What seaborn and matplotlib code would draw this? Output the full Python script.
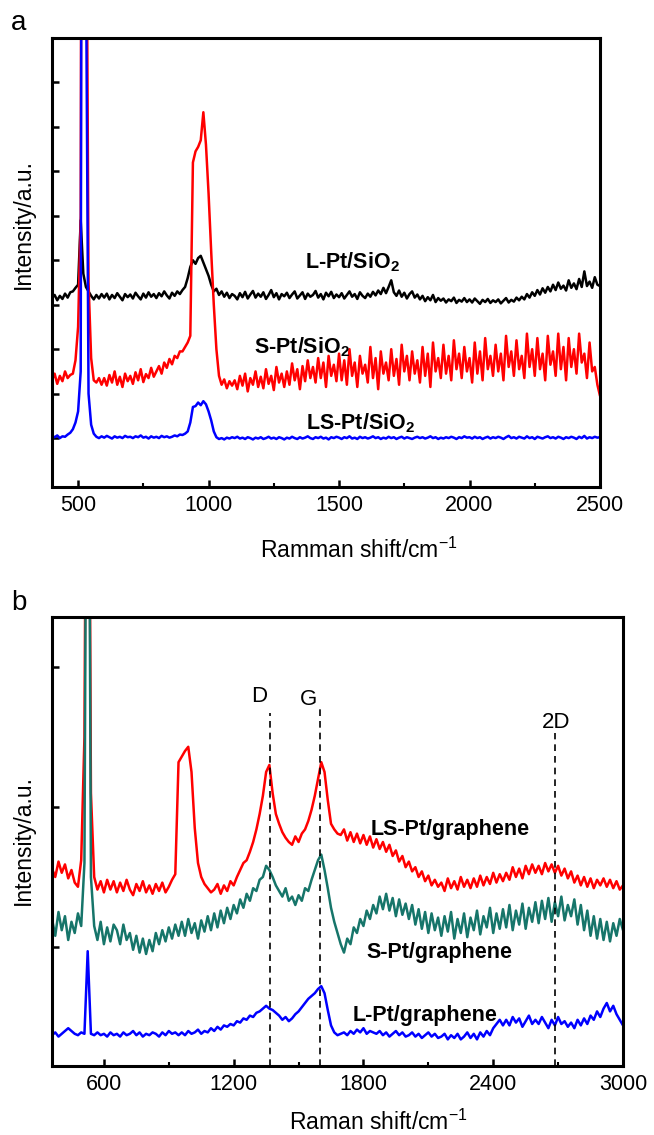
import numpy as np
import pandas as pd
import matplotlib.pyplot as plt
import seaborn as sns

# Raman shift axes (cm-1), evenly sampled spectra
shift_a = np.arange(400, 2501, 10)
shift_b = np.arange(360, 3001, 15)

# ---- panel a, stacked intensities (a.u.), one row = 100 cm-1 ----
l_pt_sio2 = [
    4.15, 4.22, 4.10, 4.20, 4.13, 4.25, 4.16, 4.28, 4.30, 4.38,
    4.45, 5.90, 4.70, 4.40, 4.30, 4.20, 4.12, 4.22, 4.14, 4.24,
    4.16, 4.25, 4.12, 4.22, 4.15, 4.26, 4.18, 4.10, 4.24, 4.17,
    4.23, 4.14, 4.27, 4.19, 4.12, 4.25, 4.16, 4.28, 4.18, 4.24,
    4.15, 4.26, 4.19, 4.30, 4.21, 4.14, 4.27, 4.20, 4.30, 4.24,
    4.33, 4.40, 4.60, 4.85, 5.00, 4.92, 5.05, 5.10, 4.95, 4.80,
    4.65, 4.45, 4.30, 4.36, 4.22, 4.30, 4.18, 4.27, 4.15, 4.24,
    4.20, 4.12, 4.26, 4.17, 4.29, 4.14, 4.23, 4.31, 4.16, 4.25,
    4.18, 4.28, 4.13, 4.22, 4.33, 4.17, 4.26, 4.12, 4.24, 4.19,
    4.27, 4.15, 4.23, 4.30, 4.14, 4.21, 4.28, 4.13, 4.25, 4.18,
    4.22, 4.31, 4.16, 4.24, 4.12, 4.27, 4.19, 4.29, 4.15, 4.23,
    4.17, 4.26, 4.14, 4.22, 4.30, 4.18, 4.24, 4.13, 4.28, 4.20,
    4.15, 4.25, 4.18, 4.29, 4.21, 4.32, 4.24, 4.38, 4.26, 4.40,
    4.55, 4.28, 4.20, 4.32, 4.18, 4.27, 4.14, 4.24, 4.30, 4.16,
    4.23, 4.12, 4.20, 4.08, 4.17, 4.10, 4.22, 4.06, 4.15, 4.09,
    4.14, 4.05, 4.12, 4.08, 4.16, 4.04, 4.11, 4.07, 4.15, 4.06,
    4.12, 4.05, 4.14, 4.08, 4.02, 4.11, 4.06, 4.13, 4.04, 4.10,
    4.06, 4.12, 4.03, 4.09, 4.15, 4.05, 4.11, 4.07, 4.16, 4.10,
    4.18, 4.12, 4.24, 4.16, 4.28, 4.20, 4.33, 4.23, 4.37, 4.27,
    4.40, 4.30, 4.45, 4.33, 4.50, 4.36, 4.43, 4.32, 4.55, 4.38,
    4.48, 4.35, 4.58, 4.40, 4.75, 4.42, 4.52, 4.38, 4.62, 4.45,
    4.42]

s_pt_sio2 = [
    2.30, 2.45, 2.22, 2.40, 2.28, 2.50, 2.35, 2.42, 2.45, 2.75,
    3.50, 6.00, 40.0, 16.0, 4.50, 2.80, 2.30, 2.25, 2.35, 2.20,
    2.35, 2.18, 2.42, 2.25, 2.50, 2.20, 2.38, 2.15, 2.45, 2.28,
    2.40, 2.22, 2.48, 2.30, 2.55, 2.26, 2.44, 2.35, 2.58, 2.38,
    2.50, 2.62, 2.45, 2.70, 2.58, 2.78, 2.66, 2.85, 2.80, 2.95,
    2.95, 3.05, 3.15, 3.30, 7.20, 7.45, 7.55, 7.70, 8.33, 7.60,
    6.50, 5.20, 4.00, 3.00, 2.40, 2.20, 2.32, 2.12, 2.28, 2.18,
    2.30, 2.10, 2.40, 2.18, 2.45, 2.05, 2.35, 2.20, 2.50, 2.15,
    2.38, 2.12, 2.55, 2.22, 2.40, 2.08, 2.60, 2.25, 2.45, 2.15,
    2.50, 2.20, 2.68, 2.30, 2.55, 2.10, 2.62, 2.28, 2.75, 2.35,
    2.60, 2.25, 2.80, 2.35, 2.70, 2.15, 2.85, 2.40, 2.65, 2.28,
    2.90, 2.30, 2.75, 2.20, 3.00, 2.40, 2.70, 2.15, 2.85, 2.45,
    2.65, 2.25, 3.05, 2.35, 2.80, 2.10, 2.95, 2.45, 2.70, 2.30,
    3.00, 2.40, 2.78, 2.20, 3.10, 2.50, 2.85, 2.30, 2.95, 2.45,
    2.75, 2.25, 3.05, 2.40, 2.90, 2.15, 3.15, 2.50, 2.80, 2.35,
    3.10, 2.45, 2.85, 2.30, 3.20, 2.55, 2.90, 2.35, 3.05, 2.50,
    2.80, 2.25, 3.15, 2.45, 2.95, 2.30, 3.25, 2.55, 2.85, 2.40,
    3.10, 2.50, 2.90, 2.30, 3.30, 2.60, 2.95, 2.40, 3.20, 2.55,
    2.85, 2.35, 3.35, 2.60, 3.00, 2.40, 3.25, 2.55, 2.90, 2.30,
    3.30, 2.65, 2.95, 2.40, 3.35, 2.55, 3.05, 2.30, 3.25, 2.60,
    3.00, 2.45, 3.35, 2.70, 2.90, 2.35, 3.15, 2.50, 2.60, 2.20,
    1.95]

ls_pt_sio2 = [
    1.05, 1.02, 1.06, 1.00, 1.04, 1.03, 1.08, 1.12, 1.20, 1.35,
    1.60, 2.50, 40.0, 12.0, 2.00, 1.30, 1.10, 1.03, 1.00, 1.04,
    1.01, 1.05, 1.02, 0.99, 1.04, 1.01, 1.03, 1.00, 1.05, 1.02,
    1.03, 1.00, 1.04, 1.02, 1.06, 1.01, 1.03, 0.99, 1.04, 1.01,
    1.03, 1.00, 1.05, 1.02, 1.04, 1.01, 1.03, 1.06, 1.04, 1.08,
    1.07, 1.10, 1.15, 1.35, 1.70, 1.72, 1.80, 1.74, 1.83, 1.76,
    1.60, 1.40, 1.15, 1.02, 0.98, 1.00, 0.97, 1.01, 0.99, 1.02,
    1.00, 1.03, 0.99, 1.01, 0.98, 1.02, 1.00, 0.97, 1.01, 0.99,
    1.02, 0.98, 1.00, 1.03, 0.99, 1.01, 0.98, 1.02, 1.00, 0.97,
    1.01, 0.99, 1.03, 1.00, 0.98, 1.02, 0.99, 1.01, 1.04, 1.00,
    0.98, 1.02, 1.00, 1.03, 0.99, 1.01, 0.97, 1.02, 1.00, 1.03,
    1.01, 0.98, 1.02, 1.00, 1.04, 0.99, 1.01, 0.98, 1.03, 1.00,
    1.02, 0.99, 1.01, 1.04, 1.00, 1.02, 0.98, 1.01, 0.99, 1.03,
    1.00, 1.02, 0.98, 1.01, 1.03, 0.99, 1.02, 1.00, 0.98, 1.01,
    1.03, 1.00, 1.02, 0.99, 1.01, 1.04, 1.00, 1.02, 0.98, 1.01,
    0.99, 1.02, 1.00, 1.03, 1.01, 0.98, 1.02, 1.00, 1.04, 1.01,
    1.02, 0.99, 1.03, 1.00, 1.02, 0.98, 1.01, 1.03, 0.99, 1.02,
    1.00, 1.03, 1.01, 0.98, 1.02, 1.05, 1.00, 1.02, 0.99, 1.03,
    1.01, 0.99, 1.04, 1.00, 1.02, 0.98, 1.03, 1.01, 0.99, 1.02,
    1.04, 1.00, 1.02, 0.99, 1.03, 1.01, 0.98, 1.02, 1.00, 1.03,
    1.01, 0.98, 1.03, 1.00, 1.05, 0.99, 1.02, 1.00, 1.03, 1.01,
    1.02]

# ---- panel b, stacked intensities (a.u.), one row = 150 cm-1 ----
ls_pt_gr = [
    0.56, 0.50, 0.61, 0.53, 0.59, 0.49, 0.55, 0.46, 0.43, 0.62,
    1.50, 6.00, 1.10, 0.50, 0.41, 0.47, 0.39, 0.48, 0.41, 0.47,
    0.39, 0.46, 0.40, 0.48, 0.41, 0.37, 0.45, 0.40, 0.47, 0.39,
    0.44, 0.38, 0.45, 0.40, 0.46, 0.39, 0.43, 0.48, 0.52, 1.32,
    1.36, 1.40, 1.43, 1.25, 0.85, 0.60, 0.50, 0.45, 0.42, 0.39,
    0.41, 0.45, 0.38, 0.44, 0.40, 0.47, 0.44, 0.50, 0.55, 0.60,
    0.62, 0.68, 0.75, 0.84, 0.95, 1.08, 1.25, 1.30, 1.10, 0.95,
    0.88, 0.82, 0.78, 0.75, 0.73, 0.79, 0.75, 0.81, 0.84, 0.90,
    0.98, 1.08, 1.20, 1.32, 1.25, 1.05, 0.88, 0.84, 0.81, 0.80,
    0.84, 0.76, 0.82, 0.75, 0.81, 0.74, 0.80, 0.73, 0.79, 0.71,
    0.77, 0.70, 0.75, 0.68, 0.73, 0.65, 0.69, 0.61, 0.65, 0.57,
    0.61, 0.54, 0.57, 0.50, 0.54, 0.47, 0.51, 0.44, 0.48, 0.43,
    0.46, 0.40, 0.49, 0.42, 0.47, 0.41, 0.50, 0.43, 0.48, 0.42,
    0.49, 0.43, 0.51, 0.44, 0.50, 0.45, 0.53, 0.46, 0.52, 0.47,
    0.53, 0.48, 0.57, 0.50, 0.56, 0.49, 0.58, 0.52, 0.59, 0.53,
    0.58, 0.52, 0.60, 0.54, 0.59, 0.53, 0.58, 0.51, 0.56, 0.49,
    0.54, 0.46, 0.51, 0.44, 0.50, 0.43, 0.49, 0.42, 0.48, 0.44,
    0.49, 0.43, 0.48, 0.42, 0.47, 0.41, 0.44]

s_pt_gr = [
    0.20, 0.08, 0.25, 0.12, 0.22, 0.05, 0.18, 0.10, 0.24, 0.15,
    0.60, 6.00, 0.50, 0.15, 0.05, 0.18, 0.02, 0.14, 0.04, 0.16,
    0.12, 0.02, 0.16, 0.05, 0.10, -0.02, 0.08, -0.04, 0.06, -0.05,
    0.05, -0.03, 0.10, 0.02, 0.12, 0.04, 0.14, 0.06, 0.16, 0.08,
    0.18, 0.08, 0.20, 0.10, 0.17, 0.06, 0.19, 0.11, 0.22, 0.12,
    0.24, 0.14, 0.26, 0.17, 0.28, 0.20, 0.30, 0.24, 0.34, 0.28,
    0.38, 0.33, 0.42, 0.40, 0.48, 0.50, 0.58, 0.55, 0.50, 0.44,
    0.40, 0.36, 0.42, 0.33, 0.36, 0.30, 0.37, 0.33, 0.42, 0.40,
    0.48, 0.55, 0.62, 0.66, 0.55, 0.42, 0.28, 0.18, 0.10, 0.02,
    -0.04, 0.06, 0.02, 0.14, 0.10, 0.20, 0.15, 0.26, 0.20, 0.30,
    0.24, 0.36, 0.27, 0.38, 0.26, 0.35, 0.22, 0.34, 0.23, 0.31,
    0.20, 0.30, 0.16, 0.27, 0.13, 0.25, 0.10, 0.24, 0.12, 0.21,
    0.08, 0.22, 0.11, 0.25, 0.06, 0.20, 0.10, 0.24, 0.07, 0.21,
    0.12, 0.26, 0.09, 0.22, 0.14, 0.28, 0.10, 0.24, 0.13, 0.27,
    0.14, 0.30, 0.12, 0.26, 0.16, 0.31, 0.13, 0.28, 0.18, 0.32,
    0.17, 0.33, 0.20, 0.35, 0.18, 0.32, 0.22, 0.36, 0.19, 0.30,
    0.22, 0.34, 0.16, 0.30, 0.12, 0.26, 0.08, 0.22, 0.06, 0.20,
    0.05, 0.18, 0.04, 0.17, 0.08, 0.20, 0.12]

l_pt_gr = [
    -0.63, -0.61, -0.64, -0.62, -0.60, -0.58, -0.60, -0.62, -0.63, -0.61,
    -0.62, -0.03, -0.62, -0.63, -0.61, -0.63, -0.62, -0.64, -0.61, -0.63,
    -0.62, -0.64, -0.61, -0.63, -0.62, -0.60, -0.63, -0.61, -0.64, -0.62,
    -0.63, -0.61, -0.62, -0.64, -0.61, -0.63, -0.60, -0.62, -0.61, -0.63,
    -0.61, -0.63, -0.60, -0.62, -0.61, -0.59, -0.62, -0.60, -0.61, -0.58,
    -0.60, -0.57, -0.59, -0.56, -0.57, -0.55, -0.56, -0.53, -0.54, -0.51,
    -0.52, -0.49, -0.50, -0.47, -0.46, -0.44, -0.42, -0.44, -0.45, -0.47,
    -0.49, -0.52, -0.50, -0.53, -0.51, -0.48, -0.46, -0.43, -0.40, -0.37,
    -0.35, -0.33, -0.30, -0.28, -0.33, -0.45, -0.56, -0.61, -0.63, -0.62,
    -0.61, -0.63, -0.60, -0.62, -0.59, -0.61, -0.58, -0.62, -0.60, -0.61,
    -0.62, -0.60, -0.63, -0.61, -0.64, -0.62, -0.60, -0.63, -0.61, -0.64,
    -0.63, -0.61, -0.64, -0.62, -0.65, -0.63, -0.61, -0.64, -0.62, -0.65,
    -0.64, -0.62, -0.66, -0.63, -0.65, -0.62, -0.66, -0.64, -0.61, -0.65,
    -0.62, -0.66, -0.61, -0.64, -0.60, -0.63, -0.58, -0.55, -0.52, -0.56,
    -0.52, -0.56, -0.50, -0.54, -0.51, -0.57, -0.53, -0.49, -0.55, -0.52,
    -0.55, -0.50, -0.54, -0.58, -0.52, -0.56, -0.50, -0.55, -0.53, -0.57,
    -0.54, -0.58, -0.52, -0.56, -0.51, -0.55, -0.49, -0.52, -0.46, -0.50,
    -0.44, -0.40, -0.46, -0.42, -0.48, -0.52, -0.56]

names_a = ['L-Pt/SiO2', 'S-Pt/SiO2', 'LS-Pt/SiO2']
names_b = ['LS-Pt/graphene', 'S-Pt/graphene', 'L-Pt/graphene']
colors_a = ['#000000', '#ff0000', '#0000ff']
colors_b = ['#ff0000', '#16756a', '#0000ff']

band_names = ['D', 'G', '2D']
band_pos = [1368, 1600, 2685]

for arr in (l_pt_sio2, s_pt_sio2, ls_pt_sio2):
    assert len(arr) == len(shift_a), len(arr)
for arr in (ls_pt_gr, s_pt_gr, l_pt_gr):
    assert len(arr) == len(shift_b), len(arr)

df_a = pd.DataFrame({
    'shift': np.tile(shift_a, 3),
    'intensity': l_pt_sio2 + s_pt_sio2 + ls_pt_sio2,
    'sample': np.repeat(names_a, len(shift_a)),
})
df_b = pd.DataFrame({
    'shift': np.tile(shift_b, 3),
    'intensity': ls_pt_gr + s_pt_gr + l_pt_gr,
    'sample': np.repeat(names_b, len(shift_b)),
})

sns.set_style('ticks')
plt.rcParams['font.family'] = ['Liberation Sans', 'DejaVu Sans']
plt.rcParams['mathtext.fontset'] = 'custom'
plt.rcParams['mathtext.rm'] = 'Liberation Sans'
plt.rcParams['mathtext.it'] = 'Liberation Sans:italic'
plt.rcParams['mathtext.bf'] = 'Liberation Sans:bold'
for key in ('text.color', 'axes.labelcolor', 'xtick.color', 'ytick.color'):
    plt.rcParams[key] = 'black'

W, H = 654, 1135
fig = plt.figure(figsize=(W / 100, H / 100), dpi=100)
ax1 = fig.add_axes([52 / W, 1 - 487 / H, 548 / W, 449 / H])
ax2 = fig.add_axes([52 / W, 1 - 1066 / H, 571 / W, 449 / H])

sns.lineplot(data=df_a, x='shift', y='intensity', hue='sample', hue_order=names_a,
             palette=colors_a, estimator=None, sort=False, lw=1.8, legend=False, ax=ax1)
sns.lineplot(data=df_b, x='shift', y='intensity', hue='sample', hue_order=names_b,
             palette=colors_b, estimator=None, sort=False, lw=1.8, legend=False, ax=ax2)

ax1.set_xlim(400, 2500)
ax1.set_ylim(-0.1, 10)
ax1.set_xticks([500, 1000, 1500, 2000, 2500])
ax1.set_xticks([750, 1250, 1750, 2250], minor=True)
ax1.set_yticks(range(1, 10))

ax2.set_xlim(360, 3000)
ax2.set_ylim(-0.85, 2.357)
ax2.set_xticks([600, 1200, 1800, 2400, 3000])
ax2.set_xticks([900, 1500, 2100, 2700], minor=True)
ax2.set_yticks([0, 1, 2])

for ax in (ax1, ax2):
    for sp in ax.spines.values():
        sp.set_linewidth(2.2)
        sp.set_color('black')
    ax.tick_params(which='major', direction='in', length=5, width=1.8,
                   labelsize=15.5, pad=6, labelleft=False, colors='black')
    ax.tick_params(which='minor', direction='in', length=3, width=1.5)
    ax.set_ylabel('Intensity/a.u.', fontsize=16.5)

ax1.yaxis.set_label_coords(-0.031, 0.585)
ax2.yaxis.set_label_coords(-0.030, 0.503)
ax1.set_xlabel('Ramman shift/cm$^{-1}$', fontsize=16.5)
ax2.set_xlabel('Raman shift/cm$^{-1}$', fontsize=16.5)
ax1.xaxis.set_label_coords(0.56, -0.114)
ax2.xaxis.set_label_coords(0.571, -0.098)

# curve labels
lab = dict(fontsize=15.5, fontweight='bold', va='center')
ax1.text(1370, 4.96, 'L-Pt/SiO$_\\mathbf{2}$', ha='left', **lab)
ax1.text(1175, 3.04, 'S-Pt/SiO$_\\mathbf{2}$', ha='left', **lab)
ax1.text(1375, 1.34, 'LS-Pt/SiO$_\\mathbf{2}$', ha='left', **lab)
ax2.text(2570, 0.84, names_b[0], ha='right', **lab)
ax2.text(2487, -0.04, names_b[1], ha='right', **lab)
ax2.text(2422, -0.49, names_b[2], ha='right', **lab)

# dashed band markers
line_top = [0.786, 0.797, 0.742]
text_dx = [-52, -53, 8]
text_y = [1.79, 1.77, 1.60]
for name, pos, top, dx, ty in zip(band_names, band_pos, line_top, text_dx, text_y):
    ax2.axvline(pos, ymin=0, ymax=top, color='black', lw=1.2, ls=(0, (4, 3)))
    ax2.text(pos + dx, ty, name, fontsize=16, ha='center', va='center')

fig.text(19 / W, 1 - 23 / H, 'a', fontsize=20, ha='center', va='center')
fig.text(19 / W, 1 - 603 / H, 'b', fontsize=20, ha='center', va='center')

fig.savefig('out.png', dpi=100)
